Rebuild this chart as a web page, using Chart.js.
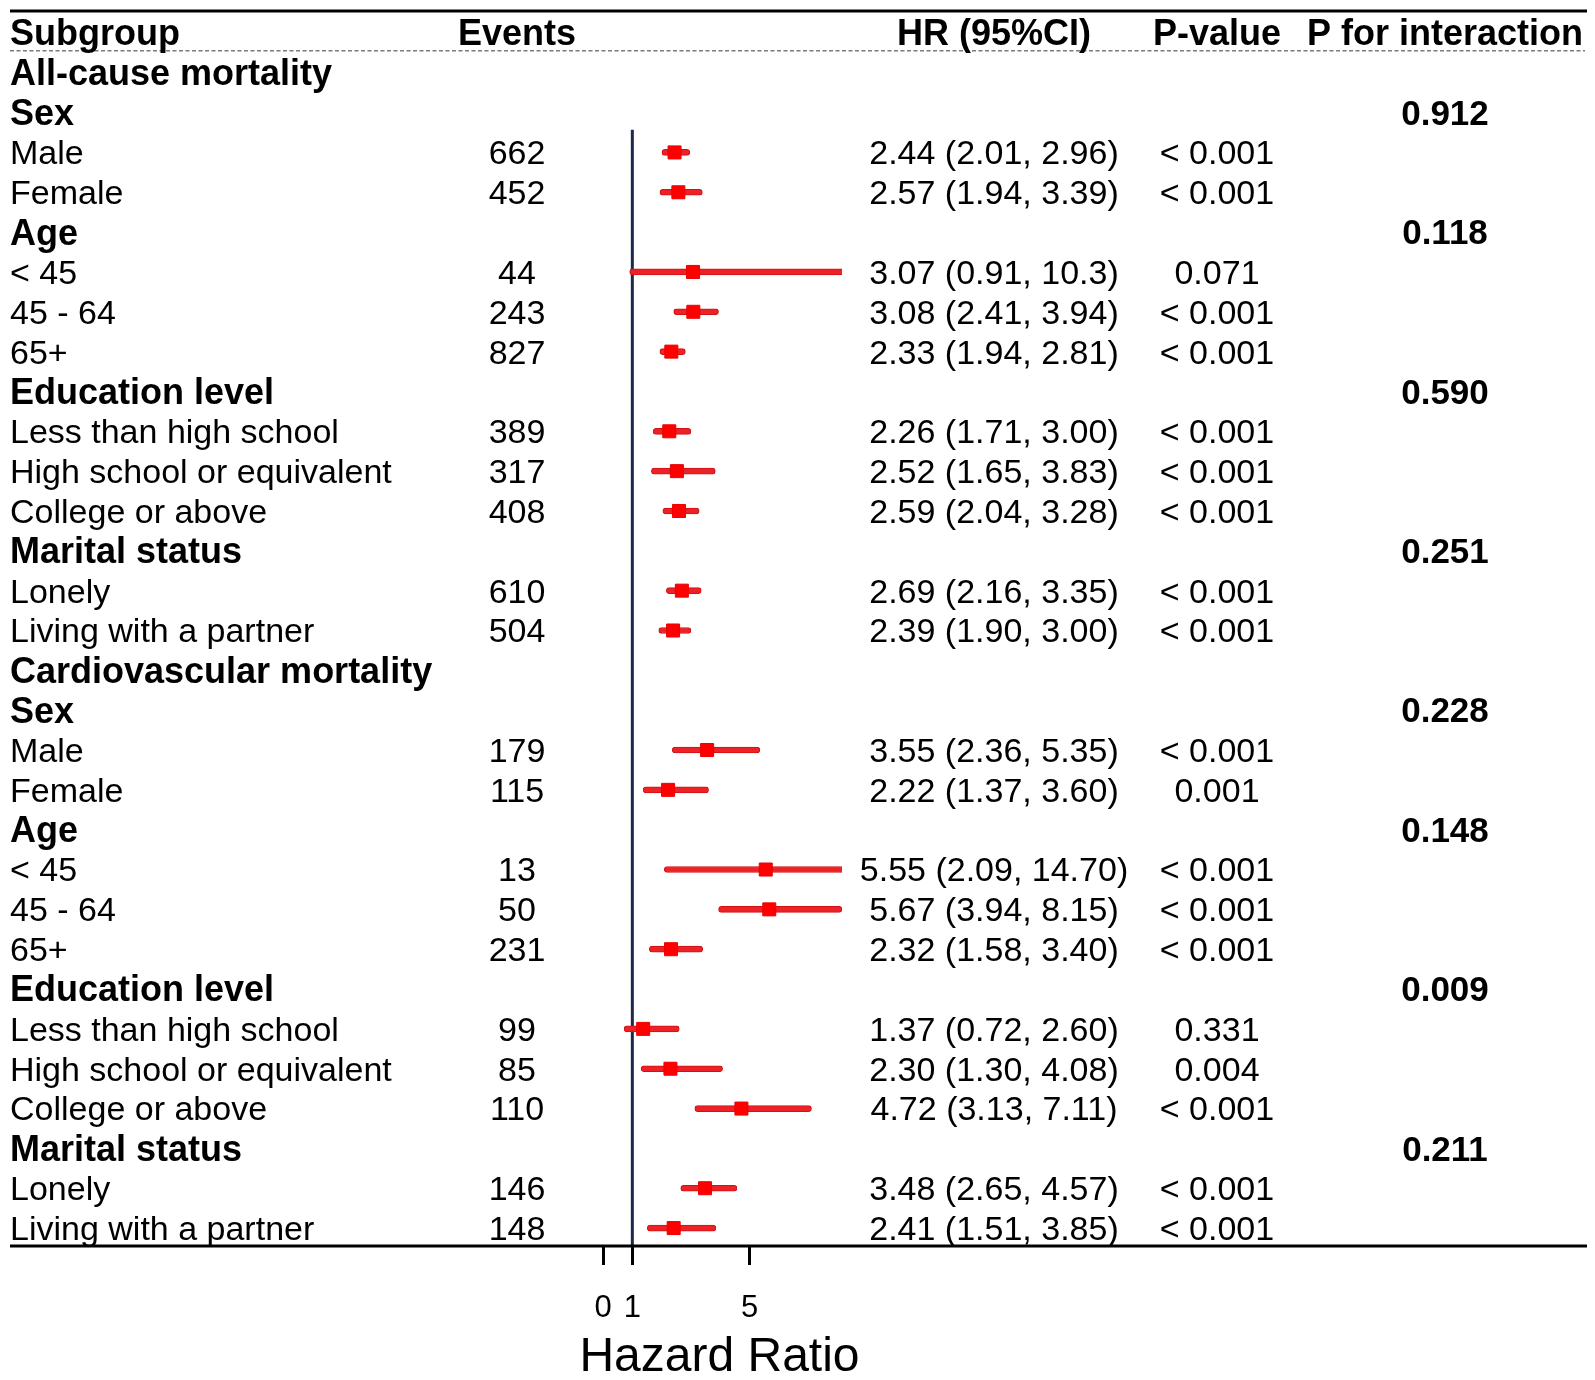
<!DOCTYPE html>
<html>
<head>
<meta charset="utf-8">
<script src="https://cdn.jsdelivr.net/npm/chart.js@4.4.1/dist/chart.umd.min.js"></script>
<style>
  body { margin: 0; background: #fff; }
  #wrap { width: 1595px; height: 1380px; }
</style>
</head>
<body>
<div id="wrap"><canvas id="forest"></canvas></div>
<script>
// rows of the table, top to bottom (header row is drawn separately)
var subgroups = ["All-cause mortality", "Sex", "Male", "Female", "Age", "< 45", "45 - 64", "65+",
  "Education level", "Less than high school", "High school or equivalent", "College or above",
  "Marital status", "Lonely", "Living with a partner",
  "Cardiovascular mortality", "Sex", "Male", "Female", "Age", "< 45", "45 - 64", "65+",
  "Education level", "Less than high school", "High school or equivalent", "College or above",
  "Marital status", "Lonely", "Living with a partner"];
var boldRow = [1, 1, 0, 0, 1, 0, 0, 0, 1, 0, 0, 0, 1, 0, 0,
  1, 1, 0, 0, 1, 0, 0, 0, 1, 0, 0, 0, 1, 0, 0];
var events = ["", "", "662", "452", "", "44", "243", "827", "", "389", "317", "408", "", "610", "504",
  "", "", "179", "115", "", "13", "50", "231", "", "99", "85", "110", "", "146", "148"];
var hr = [null, null, 2.44, 2.57, null, 3.07, 3.08, 2.33, null, 2.26, 2.52, 2.59, null, 2.69, 2.39,
  null, null, 3.55, 2.22, null, 5.55, 5.67, 2.32, null, 1.37, 2.30, 4.72, null, 3.48, 2.41];
var ciLow = [null, null, 2.01, 1.94, null, 0.91, 2.41, 1.94, null, 1.71, 1.65, 2.04, null, 2.16, 1.90,
  null, null, 2.36, 1.37, null, 2.09, 3.94, 1.58, null, 0.72, 1.30, 3.13, null, 2.65, 1.51];
var ciHigh = [null, null, 2.96, 3.39, null, 10.3, 3.94, 2.81, null, 3.00, 3.83, 3.28, null, 3.35, 3.00,
  null, null, 5.35, 3.60, null, 14.70, 8.15, 3.40, null, 2.60, 4.08, 7.11, null, 4.57, 3.85];
var hrText = ["", "", "2.44 (2.01, 2.96)", "2.57 (1.94, 3.39)", "", "3.07 (0.91, 10.3)", "3.08 (2.41, 3.94)",
  "2.33 (1.94, 2.81)", "", "2.26 (1.71, 3.00)", "2.52 (1.65, 3.83)", "2.59 (2.04, 3.28)", "",
  "2.69 (2.16, 3.35)", "2.39 (1.90, 3.00)", "", "", "3.55 (2.36, 5.35)", "2.22 (1.37, 3.60)", "",
  "5.55 (2.09, 14.70)", "5.67 (3.94, 8.15)", "2.32 (1.58, 3.40)", "", "1.37 (0.72, 2.60)",
  "2.30 (1.30, 4.08)", "4.72 (3.13, 7.11)", "", "3.48 (2.65, 4.57)", "2.41 (1.51, 3.85)"];
var pValue = ["", "", "< 0.001", "< 0.001", "", "0.071", "< 0.001", "< 0.001", "", "< 0.001", "< 0.001",
  "< 0.001", "", "< 0.001", "< 0.001", "", "", "< 0.001", "0.001", "", "< 0.001", "< 0.001", "< 0.001",
  "", "0.331", "0.004", "< 0.001", "", "< 0.001", "< 0.001"];
var pInteraction = ["", "0.912", "", "", "0.118", "", "", "", "0.590", "", "", "", "0.251", "", "",
  "", "0.228", "", "", "0.148", "", "", "", "0.009", "", "", "", "0.211", "", ""];
var headers = ["Subgroup", "Events", "HR (95%CI)", "P-value", "P for interaction"];
var xTicks = [0, 1, 5];
var xTitle = "Hazard Ratio";

var FONT = '"Liberation Sans", Arial, sans-serif';
var colEvents = 517, colHR = 994, colP = 1217, colPint = 1445;
var dy = 2.5; // text nudge so caps sit centred on each row

var ciData = [], hrData = [];
for (var i = 0; i < subgroups.length; i++) {
  if (hr[i] === null) continue;
  ciData.push({ y: i + 1, x: [ciLow[i], ciHigh[i]] });
  hrData.push({ y: i + 1, x: hr[i] });
}

var tablePlugin = {
  id: 'table',
  afterDraw: function (chart) {
    var ctx = chart.ctx, ys = chart.scales.y, area = chart.chartArea;
    var L = 10, R = 1587;
    ctx.save();
    // top rule
    ctx.strokeStyle = '#000';
    ctx.lineWidth = 3;
    ctx.beginPath(); ctx.moveTo(L, ys.getPixelForValue(-0.55)); ctx.lineTo(R, ys.getPixelForValue(-0.55)); ctx.stroke();
    // bottom rule
    ctx.beginPath(); ctx.moveTo(L, area.bottom); ctx.lineTo(R, area.bottom); ctx.stroke();
    // dashed rule under header
    ctx.strokeStyle = '#7a7a7a';
    ctx.lineWidth = 1.5;
    ctx.setLineDash([4, 2.5]);
    ctx.beginPath(); ctx.moveTo(L, ys.getPixelForValue(0.45)); ctx.lineTo(R - 2, ys.getPixelForValue(0.45)); ctx.stroke();
    ctx.setLineDash([]);

    ctx.fillStyle = '#000';
    ctx.textBaseline = 'middle';
    var y0 = ys.getPixelForValue(0) + dy;
    ctx.font = 'bold 36px ' + FONT;
    ctx.textAlign = 'left'; ctx.fillText(headers[0], L, y0);
    ctx.textAlign = 'center';
    ctx.fillText(headers[1], colEvents, y0);
    ctx.fillText(headers[2], colHR, y0);
    ctx.fillText(headers[3], colP, y0);
    ctx.fillText(headers[4], colPint, y0);

    for (var i = 0; i < subgroups.length; i++) {
      var y = ys.getPixelForValue(i + 1) + dy;
      ctx.font = (boldRow[i] ? 'bold 36px ' : '34px ') + FONT;
      ctx.textAlign = 'left';
      ctx.fillText(subgroups[i], L, y);
      ctx.font = '34px ' + FONT;
      ctx.textAlign = 'center';
      if (events[i]) ctx.fillText(events[i], colEvents, y);
      if (hrText[i]) ctx.fillText(hrText[i], colHR, y);
      if (pValue[i]) ctx.fillText(pValue[i], colP, y);
      if (pInteraction[i]) {
        ctx.font = 'bold 35px ' + FONT;
        ctx.fillText(pInteraction[i], colPint, y);
      }
    }

    // axis title (drawn here so it is not squeezed to the narrow plot width)
    ctx.font = '48px ' + FONT;
    ctx.textAlign = 'center';
    ctx.textBaseline = 'alphabetic';
    ctx.fillText(xTitle, (area.left + area.right) / 2 - 3, 1371);
    ctx.restore();
  }
};

new Chart(document.getElementById('forest'), {
  type: 'bar',
  data: {
    datasets: [{
      type: 'scatter',
      label: 'ref',
      data: [{ x: 1, y: 2.43 }, { x: 1, y: 30.45 }],
      showLine: true,
      borderColor: '#1b2a4e',
      borderWidth: 3,
      pointRadius: 0,
      order: 3
    }, {
      label: 'CI',
      data: ciData,
      backgroundColor: '#ec2226',
      borderColor: '#d01214',
      borderWidth: 1,
      borderSkipped: false,
      borderRadius: 3,
      barThickness: 6,
      clip: 0,
      order: 2
    }, {
      type: 'scatter',
      label: 'HR',
      data: hrData,
      pointStyle: 'rect',
      pointRadius: 9.2,
      pointBackgroundColor: '#ff0000',
      pointBorderColor: '#ee0000',
      pointBorderWidth: 1,
      order: 1
    }]
  },
  options: {
    indexAxis: 'y',
    responsive: true,
    maintainAspectRatio: false,
    animation: false,
    layout: { padding: { left: 603, right: 753, top: 13, bottom: 2 } },
    plugins: { legend: { display: false }, tooltip: { enabled: false } },
    scales: {
      y: { type: 'linear', reverse: true, offset: false, min: -0.5, max: 30.45, display: false },
      x: {
        type: 'linear', min: 0, max: 8.15, offset: false,
        afterBuildTicks: function (axis) { axis.ticks = xTicks.map(function (v) { return { value: v }; }); },
        afterFit: function (axis) { axis.height = 132; },
        border: { display: false },
        grid: { drawOnChartArea: false, drawTicks: true, tickLength: 19, tickColor: '#000', tickWidth: 3 },
        ticks: { autoSkip: false, maxRotation: 0, padding: 25, color: '#000',
          font: { family: FONT, size: 31 } },
        title: { display: false }
      }
    }
  },
  plugins: [tablePlugin]
});
</script>
</body>
</html>
